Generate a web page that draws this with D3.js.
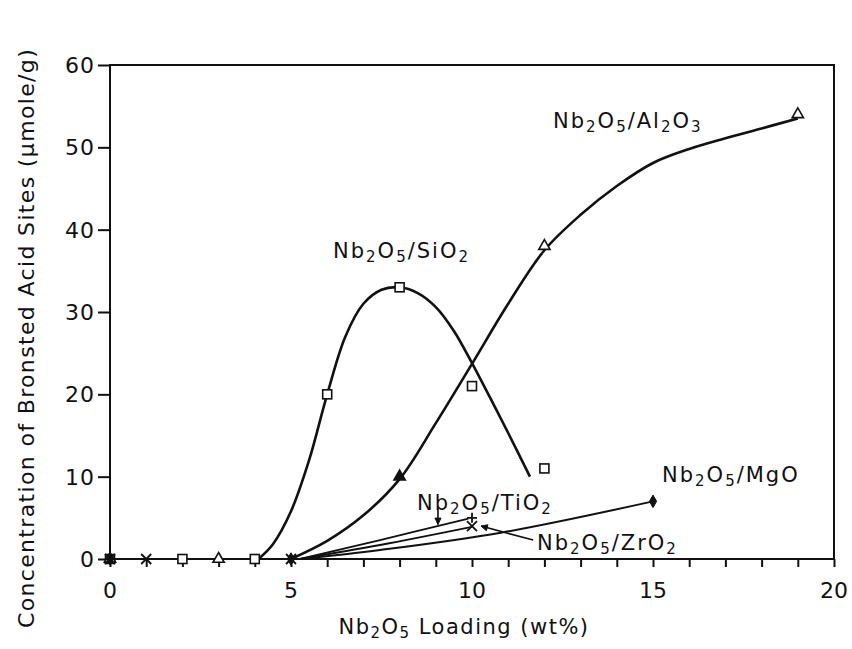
<!DOCTYPE html>
<html>
<head>
<meta charset="utf-8">
<script src="https://cdn.jsdelivr.net/npm/d3@7"></script>
<style>
  body { margin: 0; background: #fff; }
  text { font-family: "DejaVu Sans", sans-serif; fill: #111; }
</style>
</head>
<body>
<div id="chart"></div>
<script>
// tick values
var xTicks = [0, 5, 10, 15, 20];
var xMinor = d3.range(0, 21, 1);
var yTicks = [0, 10, 20, 30, 40, 50, 60];

// measured points (markers)
var sio2X = [0, 2, 4, 6, 8, 10, 12];
var sio2Y = [0, 0, 0, 20, 33, 21, 11];
var al2o3X = [0, 3, 8, 12, 19];
var al2o3Y = [0, 0, 10, 38, 54];
var tio2X = [0, 5, 10];
var tio2Y = [0, 0, 5];
var zro2X = [0, 1, 5, 10];
var zro2Y = [0, 0, 0, 4];
var mgoX = [0, 5, 15];
var mgoY = [0, 0, 7];

// hand drawn trend curves
var sio2CurveX = [4.1, 4.5, 5.0, 5.5, 6.0, 6.5, 7.0, 7.5, 8.0, 8.5, 9.0, 9.5, 10.0, 10.5, 11.0, 11.6];
var sio2CurveY = [0, 1.8, 5.8, 12, 20, 27, 31, 32.7, 33, 32.3, 30.6, 27.7, 23.8, 19.6, 15.3, 10];
var al2o3CurveX = [5, 6, 7, 8, 9, 10, 11, 12, 13, 14, 15, 16, 17, 18, 19];
var al2o3CurveY = [0, 2.2, 5.3, 9.7, 16.5, 23.7, 31, 37.5, 41.8, 45.3, 48.1, 49.8, 51.1, 52.3, 53.5];
var tio2CurveX = [5.25, 7.46, 9.9];
var tio2CurveY = [0, 2.3, 4.9];
var zro2CurveX = [5.25, 7.46, 10.0];
var zro2CurveY = [0, 1.7, 3.9];
var mgoCurveX = [5.25, 7.46, 10.8, 15.0];
var mgoCurveY = [0, 1.1, 3.2, 7.0];

var W = 852, H = 649;
var margin = { top: 65, right: 18, bottom: 90, left: 110 };

var svg = d3.select("#chart").append("svg")
    .attr("width", W)
    .attr("height", H);

var x = d3.scaleLinear().domain([0, 20]).range([margin.left, W - margin.right]);
var y = d3.scaleLinear().domain([0, 60]).range([H - margin.bottom, margin.top]);

function zip(xs, ys) {
    return xs.map(function (v, i) { return [v, ys[i]]; });
}

// frame
svg.append("rect")
    .attr("x", x(0)).attr("y", y(60))
    .attr("width", x(20) - x(0)).attr("height", y(0) - y(60))
    .attr("fill", "none").attr("stroke", "#111").attr("stroke-width", 2);

// x axis
var xAxis = d3.axisBottom(x).tickValues(xMinor).tickSize(8).tickFormat("");
svg.append("g").attr("transform", "translate(0," + y(0) + ")").call(xAxis)
    .call(function (g) {
        g.select(".domain").remove();
        g.selectAll("line").attr("stroke", "#111").attr("stroke-width", 2);
    });
svg.append("g").selectAll("text").data(xTicks).enter().append("text")
    .attr("x", function (d) { return x(d); })
    .attr("y", 598)
    .attr("text-anchor", "middle")
    .style("font-size", "22px")
    .text(function (d) { return d; });

// y axis
var yAxis = d3.axisLeft(y).tickValues(yTicks).tickSize(12).tickFormat("");
svg.append("g").attr("transform", "translate(" + x(0) + ",0)").call(yAxis)
    .call(function (g) {
        g.select(".domain").remove();
        g.selectAll("line").attr("stroke", "#111").attr("stroke-width", 2);
    });
svg.append("g").selectAll("text").data(yTicks).enter().append("text")
    .attr("x", 95)
    .attr("y", function (d) { return y(d); })
    .attr("dy", "0.36em")
    .attr("text-anchor", "end")
    .style("font-size", "22px")
    .style("letter-spacing", "1px")
    .text(function (d) { return d; });

// axis titles
var xt = svg.append("text")
    .attr("x", 464).attr("y", 634)
    .attr("text-anchor", "middle")
    .style("font-size", "21px")
    .style("letter-spacing", "1.5px");
xt.append("tspan").text("Nb");
xt.append("tspan").attr("dy", 4).style("font-size", "15px").text("2");
xt.append("tspan").attr("dy", -4).text("O");
xt.append("tspan").attr("dy", 4).style("font-size", "15px").text("5");
xt.append("tspan").attr("dy", -4).text(" Loading (wt%)");

svg.append("text")
    .attr("transform", "translate(34,338) rotate(-90)")
    .attr("text-anchor", "middle")
    .style("font-size", "22px")
    .style("letter-spacing", "1.35px")
    .text("Concentration of Bronsted Acid Sites (\u03bcmole/g)");

// curves
var line = d3.line()
    .x(function (d) { return x(d[0]); })
    .y(function (d) { return y(d[1]); })
    .curve(d3.curveCatmullRom.alpha(0.5));

var curves = [
    { pts: zip(sio2CurveX, sio2CurveY), w: 2.6 },
    { pts: zip(al2o3CurveX, al2o3CurveY), w: 2.6 },
    { pts: zip(tio2CurveX, tio2CurveY), w: 1.8 },
    { pts: zip(zro2CurveX, zro2CurveY), w: 1.8 },
    { pts: zip(mgoCurveX, mgoCurveY), w: 2.0 }
];
svg.append("g").selectAll("path").data(curves).enter().append("path")
    .attr("d", function (d) { return line(d.pts); })
    .attr("fill", "none")
    .attr("stroke", "#111")
    .attr("stroke-width", function (d) { return d.w; });

// markers
var mk = svg.append("g");
mk.selectAll(".sq").data(zip(sio2X, sio2Y)).enter().append("rect")
    .attr("x", function (d) { return x(d[0]) - 4.5; })
    .attr("y", function (d) { return y(d[1]) - 4.5; })
    .attr("width", 9).attr("height", 9)
    .attr("fill", "#fff").attr("stroke", "#111").attr("stroke-width", 1.6);

var tri = d3.symbol().type(d3.symbolTriangle).size(55);
mk.selectAll(".tri").data(zip(al2o3X, al2o3Y)).enter().append("path")
    .attr("d", tri)
    .attr("transform", function (d) { return "translate(" + x(d[0]) + "," + y(d[1]) + ")"; })
    .attr("fill", function (d) { return d[0] === 8 ? "#111" : "#fff"; })
    .attr("stroke", "#111").attr("stroke-width", 1.6);

var dia = d3.symbol().type(d3.symbolDiamond).size(45);
mk.selectAll(".dia").data(zip(mgoX, mgoY)).enter().append("path")
    .attr("d", dia)
    .attr("transform", function (d) { return "translate(" + x(d[0]) + "," + y(d[1]) + ")"; })
    .attr("fill", "#111").attr("stroke", "#111").attr("stroke-width", 1);

mk.selectAll(".plus").data(zip(tio2X, tio2Y)).enter().append("path")
    .attr("d", "M-5,0H5M0,-5V5")
    .attr("transform", function (d) { return "translate(" + x(d[0]) + "," + y(d[1]) + ")"; })
    .attr("stroke", "#111").attr("stroke-width", 1.8);

mk.selectAll(".xx").data(zip(zro2X, zro2Y)).enter().append("path")
    .attr("d", "M-5,-5L5,5M-5,5L5,-5")
    .attr("transform", function (d) { return "translate(" + x(d[0]) + "," + y(d[1]) + ")"; })
    .attr("stroke", "#111").attr("stroke-width", 1.8);

// labels
function chemLabel(px, py, parts) {
    var t = svg.append("text").attr("x", px).attr("y", py)
        .style("font-size", "21px").style("letter-spacing", "2px");
    var sub = false;
    parts.forEach(function (p) {
        var s = t.append("tspan").text(p[0]);
        if (p[1] && !sub) { s.attr("dy", 4).style("font-size", "15px"); sub = true; }
        else if (p[1]) { s.style("font-size", "15px"); }
        else if (!p[1] && sub) { s.attr("dy", -4); sub = false; }
    });
    return t;
}
function nb(rest) {
    return [["Nb"], ["2", 1], ["O"], ["5", 1], ["/"]].concat(rest);
}
chemLabel(553, 128, nb([["Al"], ["2", 1], ["O"], ["3", 1]]));
chemLabel(333, 258, nb([["SiO"], ["2", 1]]));
chemLabel(662, 482, nb([["MgO"]]));
chemLabel(417, 510, nb([["TiO"], ["2", 1]]));
chemLabel(537, 550, nb([["ZrO"], ["2", 1]]));

// arrows
function arrow(x1, y1, x2, y2) {
    var a = Math.atan2(y2 - y1, x2 - x1), L = 7, s = 0.45;
    svg.append("line")
        .attr("x1", x1).attr("y1", y1).attr("x2", x2).attr("y2", y2)
        .attr("stroke", "#111").attr("stroke-width", 1.6);
    svg.append("path")
        .attr("d", "M" + x2 + "," + y2 +
            "L" + (x2 - L * Math.cos(a - s)) + "," + (y2 - L * Math.sin(a - s)) +
            "L" + (x2 - L * Math.cos(a + s)) + "," + (y2 - L * Math.sin(a + s)) + "Z")
        .attr("fill", "#111").attr("stroke", "#111").attr("stroke-width", 1);
}
arrow(x(9.06), y(6.1), x(9.06), y(4.2));
arrow(x(11.69), y(2.3), x(10.25), y(4.0));
</script>
</body>
</html>
